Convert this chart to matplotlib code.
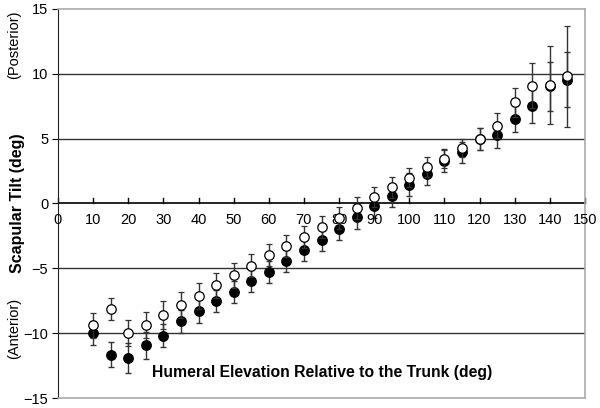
import numpy as np
import matplotlib.pyplot as plt

plt.rcParams['font.family'] = ['Liberation Sans', 'DejaVu Sans']

# humeral elevation angles
angles = [10, 15, 20, 25, 30, 35, 40, 45, 50, 55, 60, 65, 70, 75,
          80, 85, 90, 95, 100, 105, 110, 115, 120, 125, 130, 135, 140, 145]

# filled circles
tilt_filled = [-10.0, -11.65, -11.9, -10.95, -10.2, -9.1, -8.3, -7.55, -6.8, -6.0,
               -5.25, -4.4, -3.6, -2.8, -1.95, -1.05, -0.2, 0.6, 1.45, 2.3,
               3.3, 3.95, 4.95, 5.25, 6.5, 7.5, 9.05, 9.55]
err_filled = [0.95, 0.95, 1.15, 1.05, 0.9, 0.9, 0.9, 0.85, 0.85, 0.85,
              0.85, 0.85, 0.85, 0.85, 0.9, 0.9, 0.9, 0.9, 0.9, 0.85,
              0.9, 0.8, 0.85, 1.0, 1.0, 1.3, 1.9, 2.1]

# open circles
tilt_open = [-9.4, -8.1, -10.0, -9.4, -8.6, -7.85, -7.15, -6.3, -5.55, -4.8,
             -4.0, -3.3, -2.6, -1.8, -1.1, -0.35, 0.5, 1.25, 2.0, 2.8,
             3.45, 4.25, 5.0, 6.0, 7.8, 9.1, 9.15, 9.8]
err_open = [0.95, 0.85, 1.0, 1.0, 1.05, 1.0, 1.0, 0.95, 0.95, 0.9,
            0.85, 0.85, 0.85, 0.85, 0.85, 0.85, 0.8, 0.8, 0.75, 0.75,
            0.7, 0.7, 0.85, 0.95, 1.1, 1.7, 3.0, 3.9]

x_ticks = list(range(0, 151, 10))

fig = plt.figure(figsize=(6.0, 4.08), dpi=100)
ax = fig.add_axes([58 / 600, 1 - 398 / 408, 527 / 600, 389 / 408])

ax.set_xlim(0, 150)
ax.set_ylim(-15, 15)

# horizontal grid lines
for yv in [-10, -5, 5, 10]:
    ax.axhline(yv, color='#333333', lw=1.0, zorder=1)
ax.axhline(0, color='black', lw=1.2, zorder=2)

ax.errorbar(angles, tilt_filled, yerr=err_filled, fmt='o', mfc='black', mec='black',
            ms=6.8, ecolor='#333333', elinewidth=1.0, capsize=2.5, capthick=1.0, zorder=3)
ax.errorbar(angles, tilt_open, yerr=err_open, fmt='o', mfc='white', mec='black',
            mew=0.9, ms=6.8, ecolor='#333333', elinewidth=1.0, capsize=2.5,
            capthick=1.0, zorder=4)

for s in ['top', 'right', 'bottom']:
    ax.spines[s].set_color('#aaaaaa')
    ax.spines[s].set_linewidth(1.2)
ax.spines['left'].set_color('#222222')

ax.set_yticks([-15, -10, -5, 0, 5, 10, 15])
ax.tick_params(axis='y', direction='out', length=4, labelsize=10.5, pad=3)

# x ticks sit on the zero line
ax.set_xticks([])
for xv in x_ticks:
    ax.plot([xv, xv], [0, 0.4], color='black', lw=1.0, zorder=2, clip_on=False)
    ax.text(xv, -0.7, str(xv), ha='center', va='top', fontsize=10.5)

ax.text(75.2, -13.0, 'Humeral Elevation Relative to the Trunk (deg)',
        ha='center', va='center', fontsize=11.3, fontweight='bold')

fig.text(18 / 600, 1 - 203 / 408, 'Scapular Tilt (deg)', rotation=90, ha='center',
         va='center', fontsize=11.5, fontweight='bold')
fig.text(14 / 600, 1 - 45 / 408, '(Posterior)', rotation=90, ha='center',
         va='center', fontsize=10.5)
fig.text(14 / 600, 1 - 328 / 408, '(Anterior)', rotation=90, ha='center',
         va='center', fontsize=10.5)

fig.savefig('out.png', dpi=100)
